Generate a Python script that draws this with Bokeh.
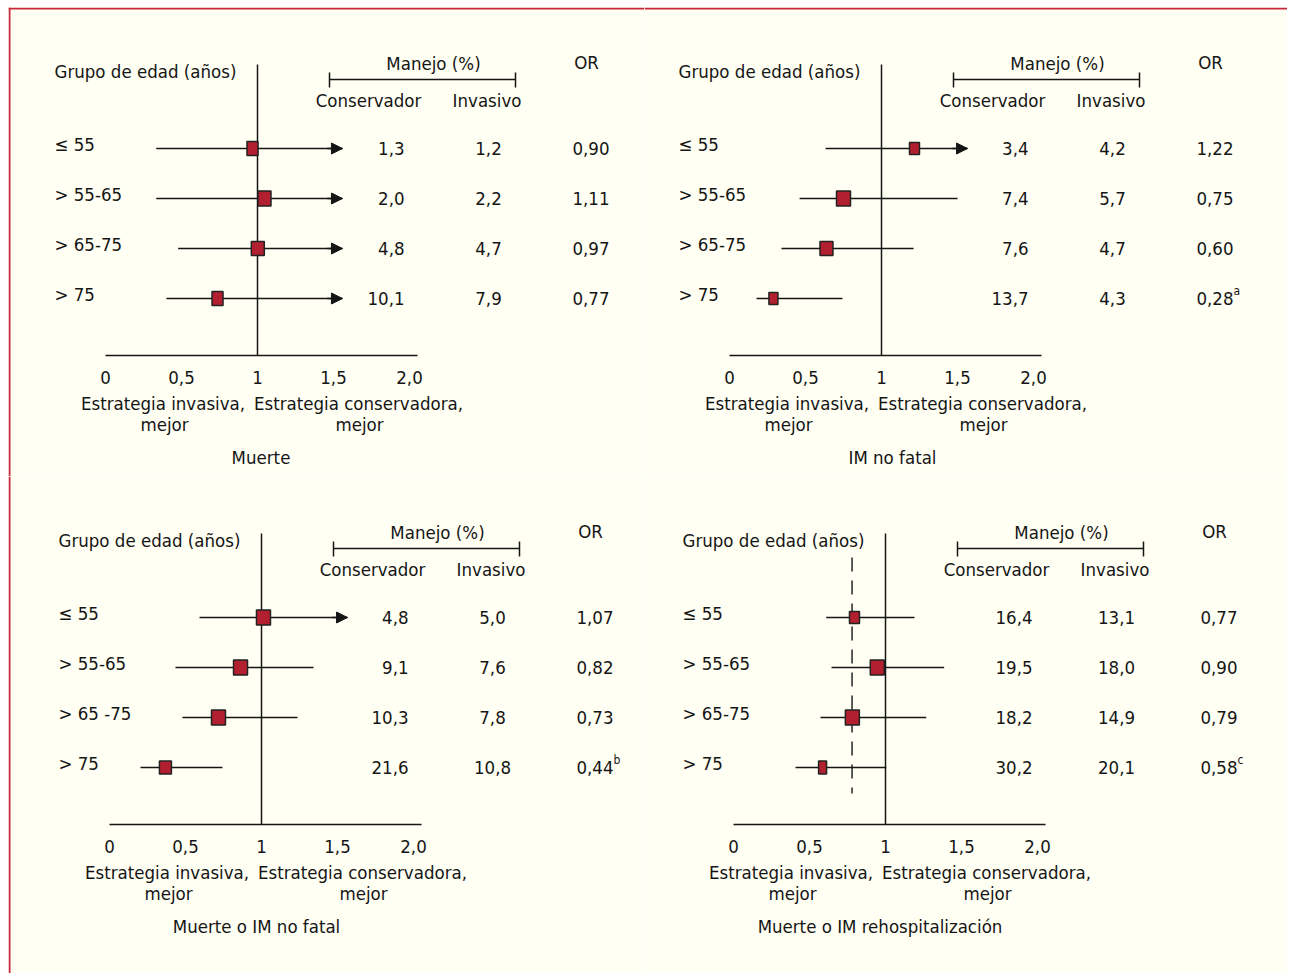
from bokeh.plotting import figure
from bokeh.models import (ColumnDataSource, Range1d, LinearAxis, FixedTicker, Arrow,
                          NormalHead, Span, CustomJSTickFormatter)
from bokeh.layouts import row, column
from bokeh.core.properties import value
from bokeh.embed import file_html
from bokeh.resources import INLINE

# ---------------- data ----------------
AGE_GROUPS = [
    ["≤ 55", "> 55-65", "> 65-75", "> 75"],
    ["≤ 55", "> 55-65", "> 65-75", "> 75"],
    ["≤ 55", "> 55-65", "> 65 -75", "> 75"],
    ["≤ 55", "> 55-65", "> 65-75", "> 75"],
]
TITLES = ["Muerte", "IM no fatal", "Muerte o IM no fatal", "Muerte o IM rehospitalización"]

CONSERVADOR = [
    [1.3, 2.0, 4.8, 10.1],
    [3.4, 7.4, 7.6, 13.7],
    [4.8, 9.1, 10.3, 21.6],
    [16.4, 19.5, 18.2, 30.2],
]
INVASIVO = [
    [1.2, 2.2, 4.7, 7.9],
    [4.2, 5.7, 4.7, 4.3],
    [5.0, 7.6, 7.8, 10.8],
    [13.1, 18.0, 14.9, 20.1],
]
OR_VALUES = [
    [0.90, 1.11, 0.97, 0.77],
    [1.22, 0.75, 0.60, 0.28],
    [1.07, 0.82, 0.73, 0.44],
    [0.77, 0.90, 0.79, 0.58],
]
OR_NOTES = [
    ["", "", "", ""],
    ["", "", "", "a"],
    ["", "", "", "b"],
    ["", "", "", "c"],
]
# point estimates and CI limits as drawn
OR_POINT = [
    [0.967, 1.046, 1.002, 0.737],
    [1.217, 0.750, 0.638, 0.289],
    [1.013, 0.862, 0.717, 0.368],
    [0.796, 0.946, 0.782, 0.586],
]
CI_LOW = [
    [0.334, 0.334, 0.478, 0.401],
    [0.632, 0.461, 0.342, 0.178],
    [0.592, 0.434, 0.480, 0.204],
    [0.610, 0.645, 0.572, 0.408],
]
CI_HIGH = [
    [1.559, 1.559, 1.559, 1.559],
    [1.566, 1.500, 1.211, 0.743],
    [1.566, 1.342, 1.237, 0.743],
    [1.191, 1.386, 1.268, 1.005],
]
CI_TRUNCATED = [
    [True, True, True, True],
    [True, False, False, False],
    [True, False, False, False],
    [False, False, False, False],
]
POOLED_OR = [None, None, None, 0.78]
NULL_OR = 1.0
TICKS = [0, 0.5, 1, 1.5, 2]
TICK_LABELS = ["0", "0,5", "1", "1,5", "2,0"]

# ---------------- styles / layout ----------------
SQ_W = [[11, 13, 13, 11], [10, 14, 13, 9], [14, 14, 14, 12], [10, 14, 14, 8]]
SQ_H = [[14, 15, 14, 14], [12, 15, 14, 12], [15, 15, 15, 13], [12, 15, 15, 13]]

FONT = "DejaVu Sans Condensed, Roboto, sans-serif"
FS = 18.5
INK = "#151515"
BG = "#FFFFF3"
RED = "#C8283C"
SQ_FILL = "#B2202F"
SCALE = 152.0                     # px per OR unit
PANEL_W = [636, 643, 636, 643]
PANEL_H = [469, 469, 497, 497]
ONE_X = [249, 237, 253, 241]      # px position of OR = 1 inside each panel
TITLE_DX = [3.5, 11, -5, -5.5]
Y_OFF = 1
ROW_Y0, ROW_DY = 140 + Y_OFF, 50
AXIS_Y = 347 + Y_OFF


def fmt1(v):
    return f"{v:.1f}".replace(".", ",")


def fmt2(v):
    return f"{v:.2f}".replace(".", ",")


def panel(k):
    W, H = PANEL_W[k], PANEL_H[k]
    x0 = 1 - ONE_X[k] / SCALE
    p = figure(width=W, height=H, x_range=Range1d(x0, x0 + W / SCALE),
               y_range=Range1d(H, 0), x_axis_type=None, y_axis_type=None,
               toolbar_location=None, output_backend="svg", min_border=0)
    p.outline_line_color = None
    p.background_fill_color = BG
    p.border_fill_color = BG

    def X(rel):
        return 1 + rel / SCALE

    def Y(v):
        return v + Y_OFF

    def txt(xs, ys, texts, align, size=FS):
        p.text(x=xs, y=ys, text=texts, text_font=value(FONT),
               text_font_size=f"{size}px", text_align=align,
               text_baseline="middle", text_color=INK)

    ys = [ROW_Y0 + ROW_DY * i for i in range(4)]

    # null line
    p.segment(x0=[NULL_OR], y0=[Y(56)], x1=[NULL_OR], y1=[AXIS_Y],
              line_color=INK, line_width=1.5)
    # pooled estimate
    if POOLED_OR[k] is not None:
        p.segment(x0=[POOLED_OR[k]], y0=[Y(80)], x1=[POOLED_OR[k]], y1=[Y(316)],
                  line_color="#333333", line_width=1.6, line_dash="14 9")

    # axis
    ax = LinearAxis(fixed_location=AXIS_Y, bounds=(0, 2.05),
                    ticker=FixedTicker(ticks=TICKS),
                    formatter=CustomJSTickFormatter(
                        args=dict(tvals=TICKS, tlabels=TICK_LABELS),
                        code="const i = tvals.indexOf(tick); return i >= 0 ? tlabels[i] : '';"))
    ax.axis_line_color = INK
    ax.axis_line_width = 1.5
    ax.major_tick_line_color = None
    ax.minor_tick_line_color = None
    ax.major_tick_out = 0
    ax.major_tick_in = 0
    ax.major_label_standoff = 15
    ax.major_label_text_font = FONT
    ax.major_label_text_font_size = f"{FS}px"
    ax.major_label_text_color = INK
    p.add_layout(ax, "below")

    src = ColumnDataSource(dict(
        y=ys, lo=CI_LOW[k], hi=CI_HIGH[k], pt=OR_POINT[k],
        w=SQ_W[k], h=SQ_H[k]))
    p.segment(x0="lo", y0="y", x1="hi", y1="y", source=src,
              line_color=INK, line_width=1.5)
    arrows = [i for i in range(4) if CI_TRUNCATED[k][i]]
    if arrows:
        asrc = ColumnDataSource(dict(
            xs=[CI_HIGH[k][i] - 0.1 for i in arrows],
            xe=[CI_HIGH[k][i] for i in arrows],
            y=[ys[i] for i in arrows]))
        p.add_layout(Arrow(end=NormalHead(size=11, fill_color=INK, line_color=INK,
                                          line_width=1),
                           x_start="xs", y_start="y", x_end="xe", y_end="y",
                           source=asrc, line_color=INK, line_width=1.5))
    p.rect(x="pt", y="y", width="w", height="h", width_units="screen",
           height_units="screen", source=src, fill_color=SQ_FILL,
           line_color="#222222", line_width=1.5)

    # headers
    txt([X(-203)], [Y(63)], ["Grupo de edad (años)"], "left")
    txt([X(176)], [Y(55)], ["Manejo (%)"], "center")
    txt([X(329)], [Y(54)], ["OR"], "center")
    txt([X(111)], [Y(92)], ["Conservador"], "center")
    txt([X(229.5)], [Y(92)], ["Invasivo"], "center")
    p.segment(x0=[X(72)], y0=[Y(71)], x1=[X(258)], y1=[Y(71)], line_color=INK, line_width=1.5)
    p.segment(x0=[X(72), X(258)], y0=[Y(64), Y(64)], x1=[X(72), X(258)], y1=[Y(79), Y(79)],
              line_color=INK, line_width=1.5)

    # row texts
    txt([X(-203)] * 4, [y - 4 for y in ys], AGE_GROUPS[k], "left")
    txt([X(147)] * 4, ys, [fmt1(v) for v in CONSERVADOR[k]], "right")
    txt([X(231)] * 4, ys, [fmt1(v) for v in INVASIVO[k]], "center")
    txt([X(315)] * 4, ys, [fmt2(v) for v in OR_VALUES[k]], "left")
    notes = [(i, n) for i, n in enumerate(OR_NOTES[k]) if n]
    if notes:
        txt([X(352)] * len(notes), [ys[i] - 8 for i, _ in notes],
            [n for _, n in notes], "left", size=12)

    # below-axis texts
    txt([X(-94.5), X(-93)], [Y(395), Y(416)], ["Estrategia invasiva,", "mejor"], "center")
    txt([X(101), X(102)], [Y(395), Y(416)], ["Estrategia conservadora,", "mejor"], "center")
    txt([X(TITLE_DX[k])], [Y(449)], [TITLES[k]], "center")

    # frame border (top / left edges of the figure box)
    if k in (0, 1):
        p.add_layout(Span(location=1, dimension="width", line_color=RED, line_width=2))
    if k in (0, 2):
        p.add_layout(Span(location=x0 + 1 / SCALE, dimension="height",
                          line_color=RED, line_width=2))
    return p


panels = [panel(k) for k in range(4)]
layout = column(row(panels[0], panels[1]), row(panels[2], panels[3]), margin=(7, 0, 0, 8))

open("out.html", "w").write(file_html(layout, INLINE))
